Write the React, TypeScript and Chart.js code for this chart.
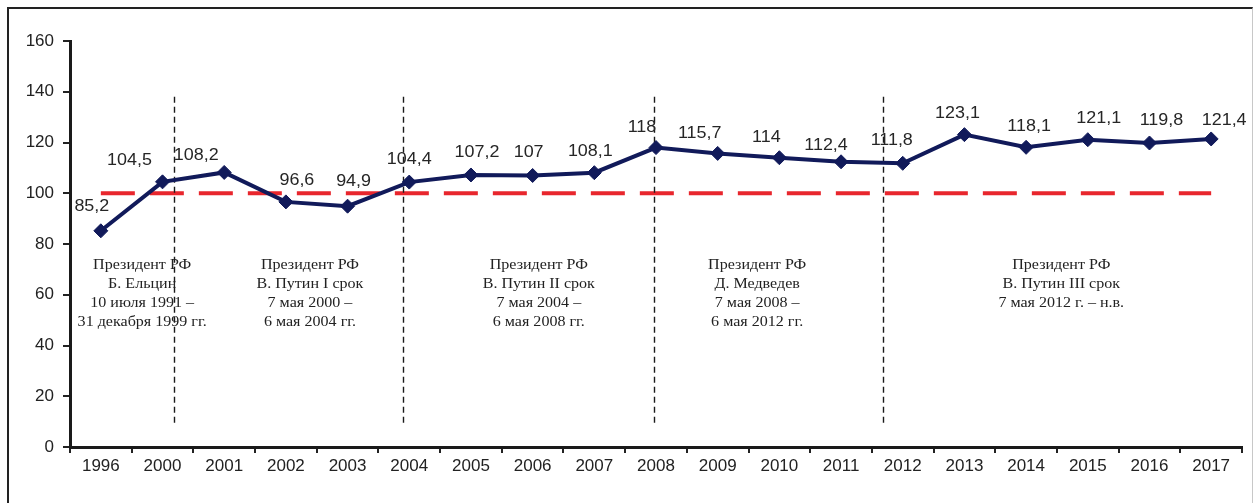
import React, { useEffect, useRef } from 'react';
import { Chart, registerables } from 'chart.js';

Chart.register(...registerables);

const years = ['1996', '2000', '2001', '2002', '2003', '2004', '2005', '2006', '2007', '2008', '2009', '2010', '2011', '2012', '2013', '2014', '2015', '2016', '2017'];
const values = [85.2, 104.5, 108.2, 96.6, 94.9, 104.4, 107.2, 107, 108.1, 118, 115.7, 114, 112.4, 111.8, 123.1, 118.1, 121.1, 119.8, 121.4];
// label offsets (px) relative to each point, as placed in the original
const labelDx = [-9, -33, -28, 11, 6, 0, 6, -4, -4, -14, -18, -13, -15, -11, -7, 3, 11, 12, 13];
const labelDy = [-24, -21, -17, -21, -25, -22, -22, -23, -21, -20, -20, -20, -16, -23, -21, -21, -21, -22, -18];

const baselineLevel = 100;
const yMin = 0;
const yMax = 160;
const yStep = 20;

// presidential term boundaries, in category units
const termBoundaries = [1.19, 4.9, 8.96, 12.68];
const boundaryTop = 138;
const boundaryBottom = 9;

const termCenters = [0.67, 3.39, 7.1, 10.64, 15.57];
const termTextTop = 71.7;
const termTexts = [
  ['Президент РФ', 'Б. Ельцин', '10 июля 1991 –', '31 декабря 1999 гг.'],
  ['Президент РФ', 'В. Путин I срок', '7 мая 2000 –', '6 мая 2004 гг.'],
  ['Президент РФ', 'В. Путин II срок', '7 мая 2004 –', '6 мая 2008 гг.'],
  ['Президент РФ', 'Д. Медведев', '7 мая 2008 –', '6 мая 2012 гг.'],
  ['Президент РФ', 'В. Путин III срок', '7 мая 2012 г. – н.в.'],
];

const overlayPlugin = {
  id: 'overlay',
  beforeDatasetsDraw(chart: any) {
    const { ctx, scales } = chart;
    const x = scales.x;
    const y = scales.y;
    ctx.save();
    ctx.strokeStyle = '#e8262d';
    ctx.lineWidth = 4;
    ctx.setLineDash([34, 15]);
    ctx.beginPath();
    const yb = y.getPixelForValue(baselineLevel);
    ctx.moveTo(x.getPixelForValue(0), yb);
    ctx.lineTo(x.getPixelForValue(years.length - 1), yb);
    ctx.stroke();
    ctx.strokeStyle = '#1a1a1a';
    ctx.lineWidth = 1.4;
    ctx.setLineDash([6, 4]);
    termBoundaries.forEach((b) => {
      const px = Math.round(x.getPixelForValue(b)) + 0.5;
      ctx.beginPath();
      ctx.moveTo(px, y.getPixelForValue(boundaryTop));
      ctx.lineTo(px, y.getPixelForValue(boundaryBottom));
      ctx.stroke();
    });
    ctx.restore();
  },
  afterDatasetsDraw(chart: any) {
    const { ctx, scales } = chart;
    const x = scales.x;
    const y = scales.y;
    ctx.save();
    ctx.fillStyle = '#262626';
    ctx.font = "16px 'Liberation Sans', Arial, sans-serif";
    ctx.textAlign = 'center';
    ctx.textBaseline = 'middle';
    values.forEach((v, i) => {
      const px = x.getPixelForValue(i) + labelDx[i];
      const py = y.getPixelForValue(v) + labelDy[i];
      ctx.save();
      ctx.translate(px, py);
      ctx.scale(1.12, 1);
      ctx.fillText(String(v).replace('.', ','), 0, 0);
      ctx.restore();
    });
    ctx.fillStyle = '#222222';
    ctx.font = "15px 'Liberation Serif', 'Times New Roman', serif";
    termTexts.forEach((lines, k) => {
      const cx = x.getPixelForValue(termCenters[k]);
      const top = y.getPixelForValue(termTextTop);
      lines.forEach((line, j) => {
        ctx.save();
        ctx.translate(cx, top + j * 19);
        ctx.scale(1.07, 1);
        ctx.fillText(line, 0, 0);
        ctx.restore();
      });
    });
    ctx.restore();
  },
};

export default function App() {
  const canvasRef = useRef<HTMLCanvasElement | null>(null);

  useEffect(() => {
    const canvas = canvasRef.current;
    if (!canvas) return;
    const chart = new Chart(canvas, {
      type: 'line',
      data: {
        labels: years,
        datasets: [
          {
            data: values,
            borderColor: '#111a5a',
            backgroundColor: '#111a5a',
            borderWidth: 4,
            pointStyle: 'rectRot',
            pointRadius: 7,
            pointBorderWidth: 1,
            pointBackgroundColor: '#111a5a',
            pointBorderColor: '#111a5a',
            tension: 0,
          },
        ],
      },
      options: {
        responsive: false,
        animation: false,
        events: [],
        layout: { padding: { left: 0, top: 41, right: 13, bottom: 16 } },
        plugins: {
          legend: { display: false },
          title: { display: false },
          tooltip: { enabled: false },
        },
        scales: {
          x: {
            offset: true,
            afterFit: (s: any) => {
              s.height = 40;
            },
            grid: {
              display: true,
              drawOnChartArea: false,
              drawTicks: true,
              tickLength: 6,
              color: '#222222',
              lineWidth: 2,
              offset: true,
            },
            border: { display: true, color: '#1a1a1a', width: 3 },
            ticks: {
              color: '#222222',
              font: { family: "'Liberation Sans', Arial, sans-serif", size: 17 },
              padding: 3,
              maxRotation: 0,
              autoSkip: false,
            },
          },
          y: {
            min: yMin,
            max: yMax,
            afterFit: (s: any) => {
              s.width = 70;
            },
            grid: {
              display: true,
              drawOnChartArea: false,
              drawTicks: true,
              tickLength: 7,
              color: '#222222',
              lineWidth: 2,
            },
            border: { display: true, color: '#1a1a1a', width: 3 },
            ticks: {
              stepSize: yStep,
              color: '#222222',
              font: { family: "'Liberation Sans', Arial, sans-serif", size: 17 },
              padding: 9,
            },
          },
        },
      },
      plugins: [overlayPlugin],
    });
    return () => chart.destroy();
  }, []);

  return (
    <div>
      <div
        style={{
          position: 'fixed',
          left: 7,
          top: 7,
          width: 1246,
          height: 600,
          boxSizing: 'border-box',
          borderTop: '2px solid #222',
          borderLeft: '2px solid #222',
          borderRight: '1px solid #c8c8c8',
          background: '#fff',
        }}
      />
      <canvas
        ref={canvasRef}
        width={1255}
        height={503}
        style={{ position: 'fixed', left: 0, top: 0, width: 1255, height: 503, display: 'block' }}
      />
    </div>
  );
}
